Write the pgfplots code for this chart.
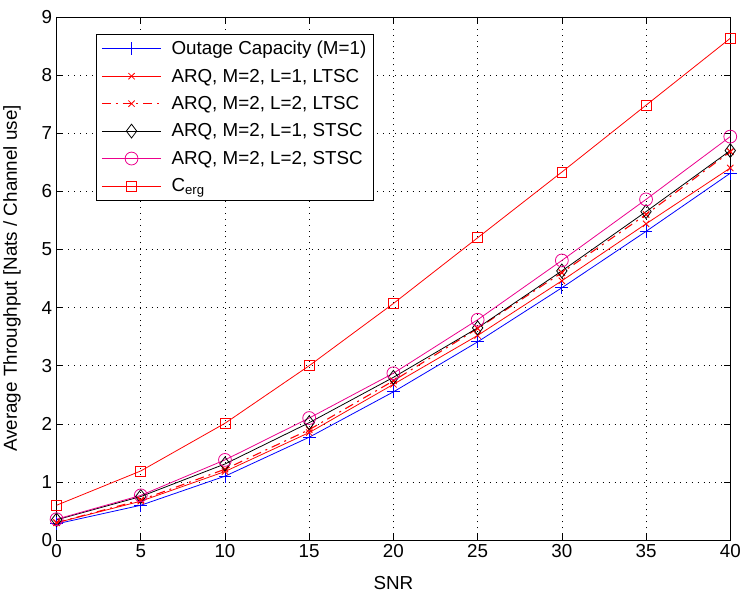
\documentclass[border=0pt]{standalone}
\usepackage{pgfplots}
\pgfplotsset{compat=1.18}
\usepackage{fontspec}
\setmainfont{Liberation Sans}
\begin{document}
\begin{tikzpicture}[x=1bp,y=1bp]
\begin{axis}[
  name=ax,
  scale only axis,
  width=681bp, height=529bp,
  xmin=0, xmax=40, ymin=0, ymax=9,
  xtick={0,5,...,40}, ytick={0,1,...,9},
  /pgf/number format/assume math mode=true,
  ticklabel style={font=\fontsize{19bp}{21bp}\selectfont},
  label style={font=\fontsize{19bp}{21bp}\selectfont},
  xticklabel style={yshift=-1bp},
  yticklabel style={xshift=-1bp},
  xlabel={SNR},
  ylabel={Average Throughput [Nats / Channel use]},
  xlabel style={at={(rel axis cs:0.5,0)}, anchor=center, yshift=-43bp},
  ylabel style={at={(rel axis cs:0,0.5)}, anchor=center, yshift=45bp},
  tick align=inside, tick pos=both,
  major tick length=6bp,
  grid=major,
  grid style={black, dash pattern=on 1bp off 5bp, line width=0.6bp},
  axis line style={black, line width=0.6bp},
  every tick/.style={black, line width=0.6bp},
  legend style={at={(rel axis cs:0,1)}, anchor=north west, xshift=40bp, yshift=-17bp,
    font=\fontsize{19bp}{21bp}\selectfont, draw=black, line width=0.8bp,
    row sep=9bp, inner xsep=5bp, inner ysep=5bp,
    /tikz/every odd column/.append style={column sep=8bp}},
  legend cell align=left,
  legend image post style={line width=0.8bp},
  legend image code/.code={
    \draw[mark repeat=2,mark phase=2] plot coordinates {(0bp,0bp) (30bp,0bp) (60bp,0bp)};
  },
  every axis plot/.append style={line width=0.8bp},
]
\addplot[blue, mark=+, mark size=6.5bp, mark options={solid}] coordinates {
(0,0.28) (5,0.60) (10,1.10) (15,1.77) (20,2.55) (25,3.41) (30,4.34) (35,5.31) (40,6.31)};
\addlegendentry{Outage Capacity (M=1)}
\addplot[red, mark=x, mark size=4.5bp, mark options={solid}] coordinates {
(0,0.30) (5,0.67) (10,1.18) (15,1.85) (20,2.68) (25,3.52) (30,4.46) (35,5.44) (40,6.40)};
\addlegendentry{ARQ, M=2, L=1, LTSC}
\addplot[red, mark=x, mark size=4.5bp, mark options={solid, red}, dash pattern=on 9bp off 5bp on 2bp off 5bp, line width=1.1bp] coordinates {
(0,0.30) (5,0.69) (10,1.22) (15,1.90) (20,2.74) (25,3.64) (30,4.60) (35,5.60) (40,6.68)};
\addlegendentry{ARQ, M=2, L=2, LTSC}
\addplot[black, mark=diamond, mark size=7bp, mark options={solid}] coordinates {
(0,0.35) (5,0.75) (10,1.31) (15,2.02) (20,2.80) (25,3.65) (30,4.63) (35,5.65) (40,6.70)};
\addlegendentry{ARQ, M=2, L=1, STSC}
\addplot[magenta, mark=o, mark size=6.5bp, mark options={solid}] coordinates {
(0,0.36) (5,0.77) (10,1.38) (15,2.10) (20,2.87) (25,3.79) (30,4.81) (35,5.86) (40,6.94)};
\addlegendentry{ARQ, M=2, L=2, STSC}
\addplot[red, mark=square, mark size=5bp, mark options={solid}] coordinates {
(0,0.60) (5,1.19) (10,2.01) (15,3.00) (20,4.07) (25,5.20) (30,6.33) (35,7.48) (40,8.63)};
\addlegendentry{C\textsubscript{erg}}
\end{axis}
\path ([shift={(-57bp,-52bp)}]ax.south west) rectangle ([shift={(6bp,17bp)}]ax.north east);
\end{tikzpicture}
\end{document}
